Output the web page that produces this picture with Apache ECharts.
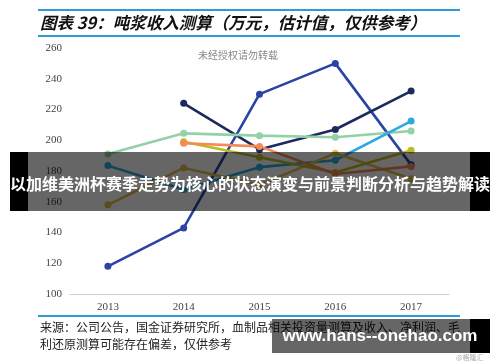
<!DOCTYPE html>
<html><head><meta charset="utf-8">
<script src="https://cdn.jsdelivr.net/npm/echarts@6/dist/echarts.min.js"></script>
<style>html,body{margin:0;padding:0;background:#fff}#c{width:500px;height:362px}</style>
</head><body><div id="c"></div>
<script>
const years = ['2013','2014','2015','2016','2017'];
const yTicks = [100,120,140,160,180,200,220,240,260];
const royal  = [118, 143, 230, 250, 184];
const navy   = [null, 224, 194, 207, 232];
const green  = [191, 204.5, 203, 202, 206];
const sky    = [183.5, 168, 182.5, 187, 212.5];
const gold   = [158, 182, 171, 191.5, 175];
const olive  = [null, 199, 189, 179, 193.5];
const orange = [null, 198, 196, 178, 183];

const seriesDefs = [
  {name:'s1', data: royal,  color:'#2A44A3'},
  {name:'s2', data: navy,   color:'#1C2A5E'},
  {name:'s3', data: green,  color:'#93D1A6'},
  {name:'s4', data: sky,    color:'#2EAADF'},
  {name:'s5', data: gold,   color:'#E2BE4E'},
  {name:'s6', data: olive,  color:'#BDBA26'},
  {name:'s7', data: orange, color:'#F58A55'}
];

const chart = echarts.init(document.getElementById('c'));
const blue = '#2F9AD6';
chart.setOption({
  animation:false,
  grid:{left:70, right:51, top:48, bottom:68},
  xAxis:{type:'category', data:years, boundaryGap:true,
    axisLine:{lineStyle:{color:'#cfcfcf', width:1}}, axisTick:{show:false},
    axisLabel:{color:'#444', fontFamily:'Liberation Serif', fontSize:11, margin:8}},
  yAxis:{type:'value', min:yTicks[0], max:yTicks[yTicks.length-1], interval:20,
    axisLine:{show:false}, axisTick:{show:false}, splitLine:{show:false},
    axisLabel:{color:'#444', fontFamily:'Liberation Serif', fontSize:11, margin:8}},
  series: seriesDefs.map(s=>({type:'line', name:s.name, data:s.data, connectNulls:false,
    symbol:'circle', symbolSize:7, itemStyle:{color:s.color},
    lineStyle:{color:s.color, width:2.6}})),
  graphic:[
    {type:'rect', shape:{x:38,y:9,width:422,height:2}, style:{fill:blue}, z:100},
    {type:'rect', shape:{x:38,y:35,width:422,height:2}, style:{fill:blue}, z:100},
    {type:'text', x:40, y:23, z:100, style:{text:'图表 39：吨浆收入测算（万元，估计值，仅供参考）',
      font:'italic bold 16.5px "Noto Sans CJK SC"', fill:'#111', verticalAlign:'middle'}},
    {type:'text', x:198, y:55, z:100, style:{text:'未经授权请勿转载',
      font:'10px "Noto Sans CJK SC"', fill:'#888', verticalAlign:'middle'}},
    {type:'rect', shape:{x:38,y:315,width:422,height:2}, style:{fill:blue}, z:100},
    {type:'text', x:40, y:327, z:100, style:{text:'来源：公司公告，国金证券研究所，血制品相关投资量测算及收入、净利润、毛',
      font:'12px "Noto Sans CJK SC"', fill:'#222', verticalAlign:'middle'}},
    {type:'text', x:40, y:344, z:100, style:{text:'利还原测算可能存在偏差，仅供参考',
      font:'12px "Noto Sans CJK SC"', fill:'#222', verticalAlign:'middle'}},
    {type:'text', x:456, y:357, z:100, style:{text:'@格隆汇',
      font:'7px "Noto Sans CJK SC"', fill:'#aaa', verticalAlign:'middle'}},
    {type:'rect', shape:{x:10,y:152,width:18,height:59}, style:{fill:'#000'}, z:200},
    {type:'rect', shape:{x:28,y:152,width:442,height:59}, style:{fill:'rgba(0,0,0,0.6)'}, z:200},
    {type:'rect', shape:{x:470,y:152,width:20,height:59}, style:{fill:'#000'}, z:200},
    {type:'text', x:250, y:184, z:201, style:{text:'以加维美洲杯赛季走势为核心的状态演变与前景判断分析与趋势解读',
      font:'bold 16px "Noto Sans CJK SC"', fill:'#fff', align:'center', verticalAlign:'middle'}},
    {type:'rect', shape:{x:272,y:319,width:198,height:34}, style:{fill:'rgba(0,0,0,0.6)'}, z:200},
    {type:'rect', shape:{x:470,y:319,width:20,height:34}, style:{fill:'#000'}, z:200},
    {type:'text', x:380, y:336, z:201, style:{text:'www.hans--onehao.com',
      font:'bold 17px "Liberation Sans"', fill:'#fff', align:'center', verticalAlign:'middle'}}
  ]
});
</script></body></html>
